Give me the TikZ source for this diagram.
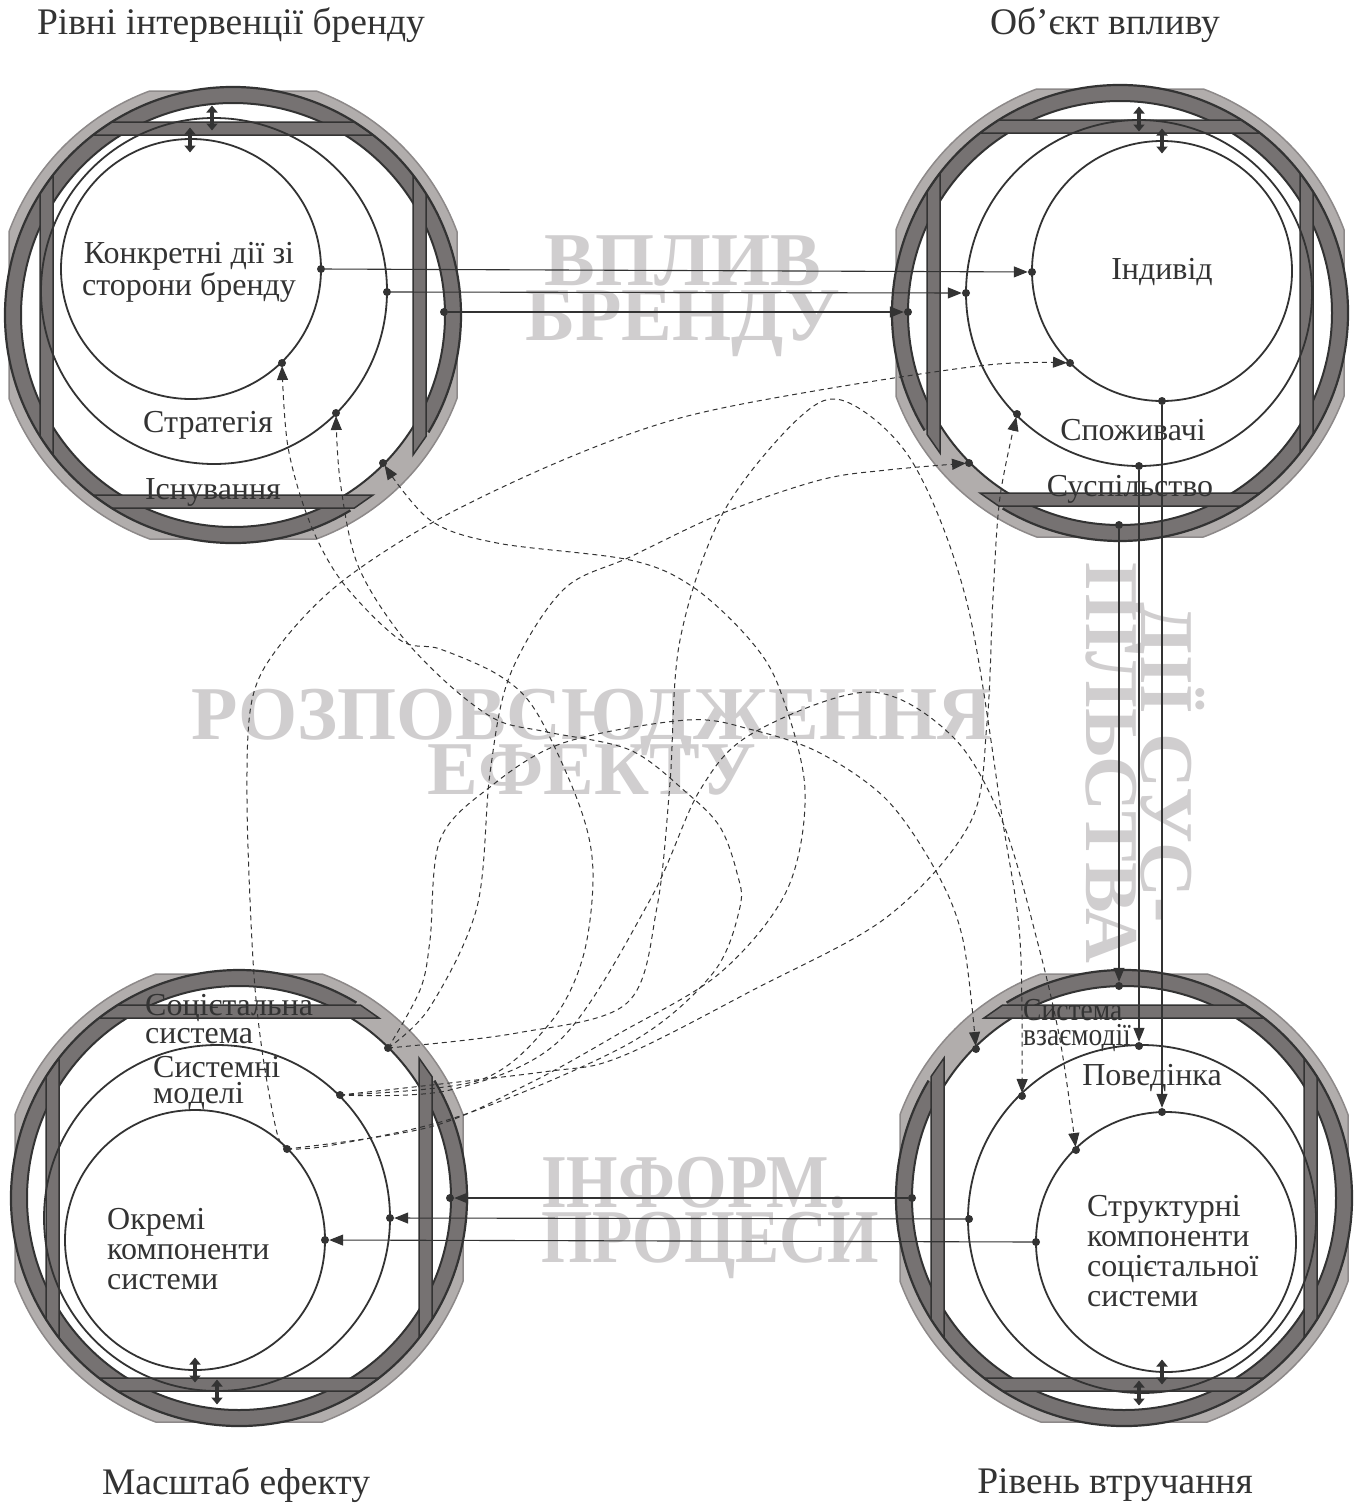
\documentclass[tikz,border=0pt]{standalone}
\usepackage{fontspec}
\setmainfont{Liberation Serif}
\usetikzlibrary{arrows.meta,calc}
\definecolor{ink}{HTML}{333333}
\definecolor{ringfill}{HTML}{767272}
\definecolor{bandfill}{HTML}{B1ADAC}
\definecolor{bandline}{HTML}{8D8989}
\definecolor{stamp}{HTML}{D0CECF}
\newcommand\tightlines{\lineskiplimit=-1000pt\relax}

\tikzset{
  circ/.style={draw=ink, line width=1.8pt},
  dot/.style={circle, fill=ink, inner sep=0pt, minimum size=8pt},
  flow/.style={draw=ink, line width=1.1pt, -{Triangle[length=14pt,width=11pt]}},
  spread/.style={draw=ink, line width=1pt, dash pattern=on 5pt off 4pt,
    -{Triangle[length=14pt,width=11pt]}, shorten >=3pt},
  lbl/.style={font=\fontsize{32}{30}\selectfont, text=ink, inner sep=0pt},
  title/.style={font=\fontsize{37.5}{40}\selectfont, text=ink, inner sep=0pt},
  stamptext/.style={font=\bfseries\fontsize{76}{55}\selectfont\tightlines, text=stamp, inner sep=0pt},
  twoway/.style={draw=ink, line width=3.5pt,
    {Triangle[length=7pt,width=11pt]}-{Triangle[length=7pt,width=11pt]}},
  pics/band/.style={code={
    % light octagonal backing
    \path[fill=bandfill, draw=bandline, line width=1.5pt]
      (20.4:239) arc[start angle=20.4,end angle=69.6,radius=239]
      -- (110.4:239) arc[start angle=110.4,end angle=159.6,radius=239]
      -- (200.4:239) arc[start angle=200.4,end angle=249.6,radius=239]
      -- (290.4:239) arc[start angle=290.4,end angle=339.6,radius=239] -- cycle;
    \fill[white] (0,0) circle[radius=212];
    % dark ring, open towards the centre of the figure
    \fill[ringfill] (#1+14:228) arc[start angle=#1+14,end angle=#1+346,radius=228]
      -- (#1+346:212) arc[start angle=#1+346,end angle=#1+14,radius=212] -- cycle;
    \draw[ink, line width=2pt] (0,0) circle[radius=212];
    % four dark clamps
    \foreach \a in {0,90,180,270}
      \path[rotate=\a, fill=ringfill, draw=ink, line width=1.5pt]
        (180,-140) -- (180,140) -- (193,121.4) -- (193,-121.4) -- cycle;
    \draw[ink, line width=2.2pt] (#1+14:228) arc[start angle=#1+14,end angle=#1+346,radius=228];
  }},
}

\begin{document}
\begin{tikzpicture}[x=1pt,y=-1pt]
\useasboundingbox[fill=white] (0,0) rectangle (1361,1510);

% ---------- backing bands ----------
\pic at (233,315) {band=45};
\pic at (1120,313) {band=135};
\pic at (239,1198) {band=-45};
\pic at (1124,1198) {band=225};

% ---------- big captions ----------
\node[stamptext, align=center] (s-brand) at (683,296) {ВПЛИВ\\БРЕНДУ};
\node[stamptext, align=center] (s-spread) at (592,742) {РОЗПОВСЮДЖЕННЯ\\ЕФЕКТУ};
\node[stamptext, align=left, anchor=west] (s-info) at (541,1218)
  {\scalebox{0.87}[1]{ІНФОРМ.}\\\scalebox{0.87}[1]{ПРОЦЕСИ}};
\node[stamptext, align=center, rotate=-90] (s-soc) at (1145,763) {ДІЇ СУС-\\ПІЛЬСТВА};

% ---------- inner circles ----------
\draw[circ] (214,291) circle[radius=173];
\draw[circ] (191,269) circle[radius=130];
\draw[circ] (1139,293) circle[radius=173];
\draw[circ] (1162,271) circle[radius=130];
\draw[circ] (217,1218) circle[radius=173];
\draw[circ] (195,1240) circle[radius=130];
\draw[circ] (1142,1219) circle[radius=174];
\draw[circ] (1166,1242) circle[radius=130];

% ---------- titles ----------
\node[title] (t-levels) at (231,25) {Рівні інтервенції бренду};
\node[title] (t-object) at (1105,25) {Об’єкт впливу};
\node[title] (t-scale) at (236,1485) {Масштаб ефекту};
\node[title] (t-depth) at (1115,1485) {Рівень втручання};

% ---------- labels ----------
\node[lbl, align=center, font=\fontsize{32}{32}\selectfont] (l-act) at (189,272) {Конкретні дії зі\\сторони бренду};
\node[lbl] (l-strat) at (208,425) {Стратегія};
\node[lbl] (l-exist) at (213,492) {Існування};
\node[lbl] (l-ind) at (1162,272) {Індивід};
\node[lbl] (l-cons) at (1133,430) {Споживачі};
\node[lbl] (l-soc) at (1130,489) {Суспільство};
\node[lbl, align=left, anchor=west, font=\fontsize{32}{28}\selectfont] (l-ss) at (145,1019) {Соцієтальна\\система};
\node[lbl, align=left, anchor=west, font=\fontsize{32}{26}\selectfont] (l-sm) at (153,1083) {Системні\\моделі};
\node[lbl, align=left, anchor=west] (l-comp) at (107,1249) {Окремі\\компоненти\\системи};
\node[lbl, align=left, anchor=west, font=\fontsize{32}{25}\selectfont] (l-inter) at (1023,1025) {\scalebox{0.86}[1]{Система}\\\scalebox{0.86}[1]{взаємодії}};
\node[lbl] (l-beh) at (1152,1078) {Поведінка};
\node[lbl, align=left, anchor=west] (l-struct) at (1087,1251) {Структурні\\компоненти\\соцієтальної\\системи};

% ---------- dots ----------
% top left
\node[dot] (tl-i-e) at (321,269) {};
\node[dot] (tl-m-e) at (387,292) {};
\node[dot] (tl-o-e) at (444,312) {};
\node[dot] (tl-i-d) at (282,363) {};
\node[dot] (tl-m-d) at (336,413) {};
\node[dot] (tl-o-d) at (383,463) {};
% top right
\node[dot] (tr-i-w) at (1032,272) {};
\node[dot] (tr-m-w) at (966,293) {};
\node[dot] (tr-o-w) at (908,312) {};
\node[dot] (tr-i-d) at (1070,363) {};
\node[dot] (tr-m-d) at (1017,414) {};
\node[dot] (tr-o-d) at (969,463) {};
\node[dot] (tr-i-s) at (1162,401) {};
\node[dot] (tr-m-s) at (1139,466) {};
\node[dot] (tr-o-s) at (1119,525) {};
% bottom left
\node[dot] (bl-o-e) at (450,1198) {};
\node[dot] (bl-m-e) at (390,1218) {};
\node[dot] (bl-i-e) at (325,1240) {};
\node[dot] (bl-o-d) at (388,1048) {};
\node[dot] (bl-m-d) at (340,1095) {};
\node[dot] (bl-i-d) at (287,1149) {};
% bottom right
\node[dot] (br-o-w) at (912,1198) {};
\node[dot] (br-m-w) at (969,1219) {};
\node[dot] (br-i-w) at (1036,1242) {};
\node[dot] (br-o-n) at (1119,986) {};
\node[dot] (br-m-n) at (1139,1046) {};
\node[dot] (br-i-n) at (1162,1112) {};
\node[dot] (br-o-d) at (976,1049) {};
\node[dot] (br-m-d) at (1022,1096) {};
\node[dot] (br-i-d) at (1076,1150) {};

% ---------- two-way arrows between levels ----------
\coordinate (tl-m-top) at (212,118);
\coordinate (tl-i-top) at (190,140);
\coordinate (tr-m-top) at (1139,119);
\coordinate (tr-i-top) at (1162,141);
\coordinate (bl-i-bot) at (195,1370);
\coordinate (bl-m-bot) at (217,1392);
\coordinate (br-i-bot) at (1162,1372);
\coordinate (br-m-bot) at (1139,1393);
\foreach \p in {tl-m-top,tl-i-top,tr-m-top,tr-i-top,bl-i-bot,bl-m-bot,br-i-bot,br-m-bot}
  \draw[twoway] ([yshift=-12.5pt]\p) -- ([yshift=12.5pt]\p);

% ---------- solid flows ----------
\draw[flow] (tl-i-e) -- (tr-i-w);
\draw[flow] (tl-m-e) -- (tr-m-w);
\draw[flow] (tl-o-e) -- (tr-o-w);
\draw[flow] (tr-o-s) -- (br-o-n);
\draw[flow] (tr-m-s) -- (br-m-n);
\draw[flow] (tr-i-s) -- (br-i-n);
\draw[flow] (br-o-w) -- (bl-o-e);
\draw[flow] (br-m-w) -- (bl-m-e);
\draw[flow] (br-i-w) -- (bl-i-e);

% ---------- dashed spread of effect ----------
\draw[spread] plot[smooth, tension=0.55] coordinates {(bl-i-d) (277,1133) (262,1050) (253,960) (247,800) (252,700) (280,645) (340,583) (437,520) (563,460) (680,418) (820,390) (987,365) (tr-i-d)};
\draw[spread] plot[smooth, tension=0.55] coordinates {(bl-m-d) (480,1080) (550,1023) (583,957) (593,873) (580,807) (537,713) (500,676) (440,649) (400,640) (343,583) (310,523) (288,447) (tl-i-d)};
\draw[spread] plot[smooth, tension=0.55] coordinates {(bl-i-d) (333,1145) (463,1115) (630,1043) (713,973) (740,907) (737,873) (720,827) (687,793) (630,750) (547,732) (497,720) (447,683) (397,630) (357,563) (340,480) (tl-m-d)};
\draw[spread] plot[smooth, tension=0.55] coordinates {(bl-o-d) (420,990) (430,940) (440,840) (490,787) (563,743) (687,720) (753,730) (820,753) (887,800) (937,873) (963,940) (br-o-d)};
\draw[spread] plot[smooth, tension=0.55] coordinates {(bl-o-d) (430,1007) (477,907) (490,773) (510,675) (563,590) (630,557) (723,513) (820,480) (887,470) (tr-o-d)};
\draw[spread] plot[smooth, tension=0.55] coordinates {(bl-m-d) (543,1072) (620,1057) (753,990) (887,917) (970,823) (987,723) (993,597) (1000,497) (tr-m-d)};
\draw[spread] plot[smooth, tension=0.55] coordinates {(bl-i-d) (430,1127) (530,1083) (620,1033) (720,973) (787,890) (805,790) (780,690) (750,640) (693,587) (630,560) (497,543) (430,520) (tl-o-d)};
\draw[spread] plot[smooth, tension=0.55] coordinates {(bl-o-d) (517,1033) (627,1003) (657,907) (670,783) (680,640) (723,513) (800,417) (847,402) (913,463) (967,603) (1003,823) (1020,940) (br-m-d)};
\draw[spread] plot[smooth, tension=0.55] coordinates {(bl-m-d) (450,1090) (560,1040) (650,900) (700,790) (753,733) (870,692) (953,737) (1003,823) (1037,940) (1060,1040) (br-i-d)};
\end{tikzpicture}
\end{document}
